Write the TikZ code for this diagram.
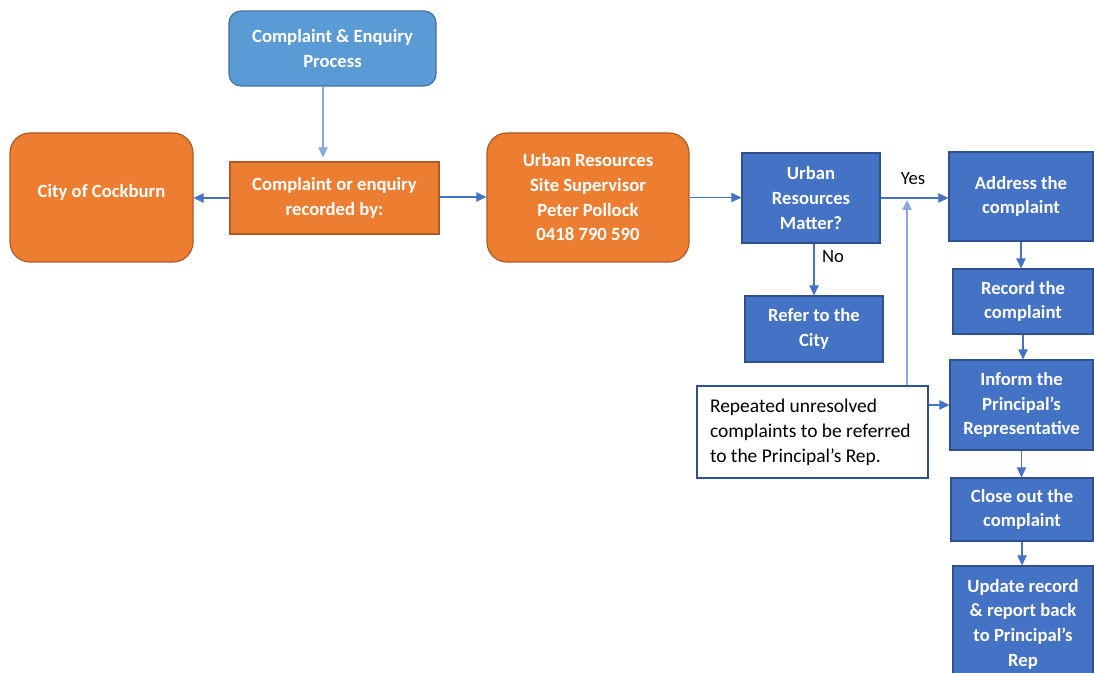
\documentclass[tikz,border=0pt]{standalone}
\usepackage{fontspec}
\setmainfont{Carlito}
\usetikzlibrary{arrows.meta,calc}
\definecolor{orf}{HTML}{ED7D31}
\definecolor{orb}{HTML}{AE5A21}
\definecolor{lbf}{HTML}{5B9BD5}
\definecolor{lbb}{HTML}{41719C}
\definecolor{dbf}{HTML}{4472C4}
\definecolor{dbb}{HTML}{2F528F}
\definecolor{conn}{HTML}{4472C4}
\definecolor{connl}{HTML}{8AA8DC}
\begin{document}
\begin{tikzpicture}[x=0.75pt,y=-0.75pt,
  every node/.style={font=\fontsize{14}{18.5}\selectfont, align=center, inner sep=0pt},
  box/.style={draw, line width=0.9pt, text=white, font=\fontsize{14}{18.5}\selectfont\bfseries},
  obox/.style={box, fill=orf, draw=orb},
  lbox/.style={box, fill=lbf, draw=lbb},
  dbox/.style={box, fill=dbf, draw=dbb},
  note/.style={draw=dbb, line width=0.9pt, fill=white, text=black, align=flush left, font=\fontsize{14.6}{18.8}\selectfont},
  arr/.style={draw=conn, line width=0.8pt, -{Triangle[length=7.5pt,width=7pt]}},
  arrl/.style={draw=connl, line width=0.8pt, -{Triangle[length=7.5pt,width=7pt]}},
  lab/.style={text=black}]
\useasboundingbox (0,0) rectangle (1094,673);
\fill[white] (0,0) rectangle (1094,673);

\node[lbox, rounded corners=9pt, minimum width=207*0.75pt, minimum height=75*0.75pt] (proc) at (332.5,48.5) {Complaint \& Enquiry\\Process};
\node[obox, minimum width=209*0.75pt, minimum height=72*0.75pt] (rec) at (334.5,198) {Complaint or enquiry\\recorded by:};
\node[obox, rounded corners=15pt, minimum width=183*0.75pt, minimum height=129*0.75pt] (city) at (101.5,197.5) {\raisebox{10pt}{City of Cockburn}};
\node[obox, rounded corners=15pt, minimum width=202*0.75pt, minimum height=129*0.75pt] (ur) at (588,197.5) {Urban Resources\\Site Supervisor\\Peter Pollock\\0418 790 590};
\node[dbox, minimum width=138*0.75pt, minimum height=90*0.75pt] (urm) at (811,198) {Urban\\Resources\\Matter?};
\node[dbox, minimum width=138*0.75pt, minimum height=66*0.75pt] (refer) at (814,329) {Refer to the\\City};
\node[dbox, minimum width=144*0.75pt, minimum height=89*0.75pt] (addr) at (1021,196.5) {Address the\\complaint};
\node[dbox, minimum width=140*0.75pt, minimum height=65*0.75pt] (recd) at (1023,301.5) {Record the\\complaint};
\node[dbox, minimum width=143*0.75pt, minimum height=90*0.75pt] (inf) at (1021.5,405) {Inform the\\Principal’s\\Representative};
\node[dbox, minimum width=142*0.75pt, minimum height=63*0.75pt] (close) at (1022,509.5) {Close out the\\complaint};
\node[dbox, minimum width=140*0.75pt, minimum height=116*0.75pt] (upd) at (1023,624) {Update record\\\& report back\\to Principal’s\\Rep};
\node[note, minimum width=231*0.75pt, minimum height=92*0.75pt, text width=205*0.75pt] (rep) at (812.5,432) {Repeated unresolved\\complaints to be referred\\to the Principal’s Rep.};

\node[lab] (yes) at (913,179) {Yes};
\node[lab] (no) at (833,257) {No};

\coordinate (join) at (907,200);

\draw[arrl] ([xshift=-9.5*0.75pt]proc.south) -- ([xshift=-11.5*0.75pt,yshift=3pt]rec.north);
\draw[arr] (rec.west) -- (rec.west -| city.east);
\draw[arr] ([yshift=0.75pt]rec.east) -- ([yshift=0.75pt]rec.east -| ur.west);
\draw[arr] (ur.east) -- (ur.east -| urm.west);
\draw[arr] (urm.east) -- (urm.east -| addr.west);
\draw[arr] ([xshift=3*0.75pt]urm.south) -- ([xshift=3*0.75pt]urm.south |- refer.north);
\draw[arrl] (join |- rep.north) -- (join);
\draw[arr] (inf.west -| rep.east) -- (inf.west);
\draw[arr] (addr.south) -- (addr.south |- recd.north);
\draw[arr] (recd.south) -- (recd.south |- inf.north);
\draw[arr] (inf.south) -- (inf.south |- close.north);
\draw[arr] (close.south) -- (close.south |- upd.north);
\end{tikzpicture}
\end{document}
